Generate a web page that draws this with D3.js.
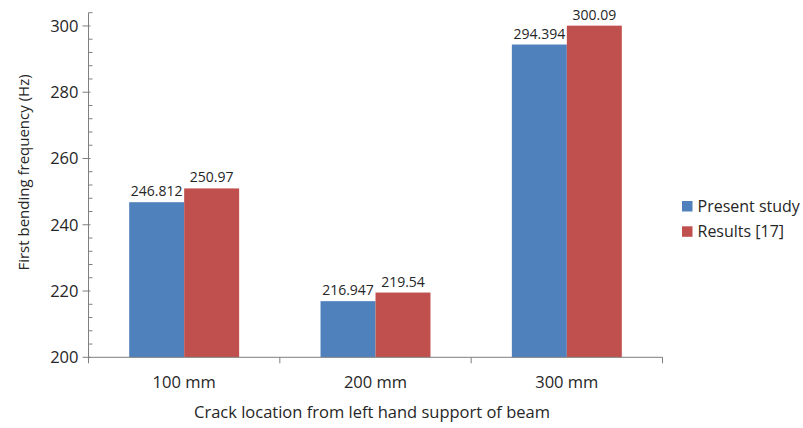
<!DOCTYPE html>
<html>
<head>
<meta charset="utf-8">
<script src="https://cdn.jsdelivr.net/npm/d3@7"></script>
<style>
  body { margin: 0; background: #fff; }
  text { font-family: "Open Sans", sans-serif; fill: #262626; }
</style>
</head>
<body>
<svg id="chart" width="803" height="428"></svg>
<script>
var categories = ["100 mm", "200 mm", "300 mm"];
var seriesNames = ["Present study", "Results [17]"];
var presentStudy = [246.812, 216.947, 294.394];
var results17 = [250.97, 219.54, 300.09];
var valueLabels = [["246.812", "216.947", "294.394"], ["250.97", "219.54", "300.09"]];
var yTicks = [200, 220, 240, 260, 280, 300];

var colors = ["#4f81bd", "#c0504d"]
  , axisColor = "#7f7f7f"
  , plotLeft = 88.5
  , plotRight = 662.5
  , plotTop = 12.7
  , plotBottom = 357.3;

var svg = d3.select("#chart");

var seriesValues = [presentStudy, results17];

// scales
var y = d3.scaleLinear().domain([200, 304]).range([plotBottom, plotTop]);
var x0 = d3.scaleBand().domain(categories).range([plotLeft, plotRight]).padding(0);
var x1 = d3.scaleBand()
  .domain(seriesNames)
  .range([0, x0.bandwidth()])
  .paddingInner(0)
  .paddingOuter(0.74);

function barData(d, i) {
  return seriesNames.map((s, k) => ({ s: s, k: k, v: seriesValues[k][i], label: valueLabels[k][i] }));
}

// bars
var groups = svg.append("g")
  .selectAll("g")
  .data(categories)
  .enter().append("g")
    .attr("transform", d => "translate(" + x0(d) + ",0)");

groups.selectAll("rect")
  .data(barData)
  .enter().append("rect")
    .attr("x", d => x1(d.s))
    .attr("y", d => y(d.v))
    .attr("width", x1.bandwidth())
    .attr("height", d => plotBottom - y(d.v))
    .attr("fill", d => colors[d.k]);

groups.selectAll("text.val")
  .data(barData)
  .enter().append("text")
    .classed("val", true)
    .attr("x", d => x1(d.s) + x1.bandwidth() / 2)
    .attr("y", d => y(d.v) - 6)
    .attr("text-anchor", "middle")
    .style("font-size", "14px")
    .text(d => d.label);

// y axis
var yAxisG = svg.append("g").attr("transform", "translate(" + plotLeft + ",0)");
yAxisG.append("line")
  .attr("x1", 0).attr("x2", 0)
  .attr("y1", plotTop).attr("y2", plotBottom)
  .attr("stroke", axisColor);

var minorTicks = d3.range(200, 305, 4).filter(v => v % 20 !== 0);
yAxisG.selectAll("line.minor")
  .data(minorTicks)
  .enter().append("line")
    .attr("x1", 0).attr("x2", 4)
    .attr("y1", d => y(d)).attr("y2", d => y(d))
    .attr("stroke", axisColor);

yAxisG.selectAll("line.major")
  .data(yTicks)
  .enter().append("line")
    .attr("x1", -6).attr("x2", 2)
    .attr("y1", d => y(d)).attr("y2", d => y(d))
    .attr("stroke", axisColor);

yAxisG.selectAll("text")
  .data(yTicks)
  .enter().append("text")
    .attr("x", -10)
    .attr("y", d => y(d))
    .attr("dy", "0.35em")
    .attr("text-anchor", "end")
    .style("font-size", "16.5px")
    .text(d => d);

// x axis
var xAxisG = svg.append("g").attr("transform", "translate(0," + plotBottom + ")");
xAxisG.append("line")
  .attr("x1", plotLeft).attr("x2", plotRight)
  .attr("y1", 0).attr("y2", 0)
  .attr("stroke", axisColor);

var boundaries = categories.map(c => x0(c)).concat([plotRight]);
xAxisG.selectAll("line.tick")
  .data(boundaries)
  .enter().append("line")
    .attr("x1", d => d).attr("x2", d => d)
    .attr("y1", 0).attr("y2", 6)
    .attr("stroke", axisColor);

xAxisG.selectAll("text")
  .data(categories)
  .enter().append("text")
    .attr("x", d => x0(d) + x0.bandwidth() / 2)
    .attr("y", 31)
    .attr("text-anchor", "middle")
    .style("font-size", "16.5px")
    .text(d => d);

// axis titles
svg.append("text")
  .attr("x", 372)
  .attr("y", 418)
  .attr("text-anchor", "middle")
  .style("font-size", "16.5px")
  .text("Crack location from left hand support of beam");

svg.append("text")
  .attr("transform", "translate(29,172.5) rotate(-90)")
  .attr("text-anchor", "middle")
  .style("font-size", "15px")
  .text("First bending frequency (Hz)");

// legend
var legend = svg.append("g").attr("transform", "translate(682,201)");
legend.selectAll("rect")
  .data(seriesNames)
  .enter().append("rect")
    .attr("x", 0)
    .attr("y", (d, i) => i * 25.3)
    .attr("width", 10.5)
    .attr("height", 10.5)
    .attr("fill", (d, i) => colors[i]);

legend.selectAll("text")
  .data(seriesNames)
  .enter().append("text")
    .attr("x", 15.5)
    .attr("y", (d, i) => i * 25.3 + 5.5)
    .attr("dy", "0.35em")
    .style("font-size", "16px")
    .text(d => d);
</script>
</body>
</html>
